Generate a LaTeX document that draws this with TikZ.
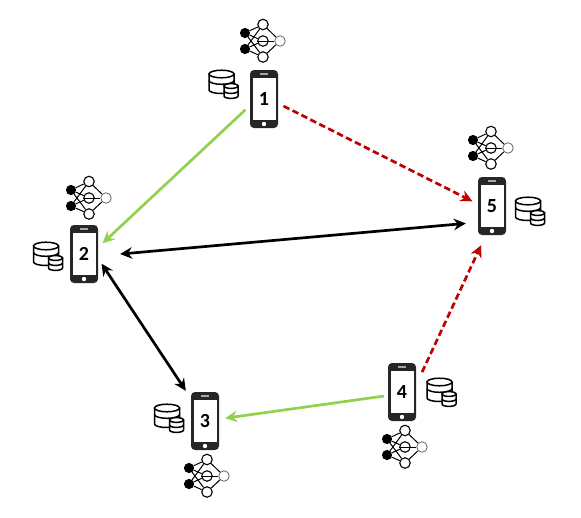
\documentclass[tikz,border=0pt]{standalone}
\usepackage{fontspec}
\setmainfont{Carlito}
\usetikzlibrary{arrows.meta}
\definecolor{phonedark}{RGB}{38,38,38}
\definecolor{linkgreen}{RGB}{146,208,80}
\definecolor{linkred}{RGB}{192,0,0}
\tikzset{
  phonebody/.style={minimum width=28pt,minimum height=58pt,inner sep=0pt,rounded corners=4pt,fill=phonedark,font=\bfseries\fontsize{20}{20}\selectfont,text=black,
    path picture={
      \begin{scope}[sharp corners]
      \fill[white] ([xshift=2.5pt,yshift=8pt]path picture bounding box.south west) rectangle ([xshift=-2.5pt,yshift=-8pt]path picture bounding box.north east);
      \fill[white] ([yshift=4pt]path picture bounding box.south) circle (2.2pt);
      \fill[gray!70] ([xshift=-4pt,yshift=-3.4pt]path picture bounding box.north) rectangle ([xshift=4pt,yshift=-4.8pt]path picture bounding box.north);
      \end{scope}
    }},
  neuron/.style={circle,draw=black,fill=white,line width=1.1pt,minimum size=10.5pt,inner sep=0pt},
  inneuron/.style={neuron,fill=black,minimum size=9pt},
  outneuron/.style={neuron,draw=black!60,line width=0.8pt},
  synapse/.style={draw=black,line width=1pt},
  cyl/.style={draw=black,line width=1.5pt,fill=white},
  cylband/.style={draw=black,line width=1.5pt},
  link/.style={line width=2.7pt,-{Stealth[length=12pt,width=11.5pt]}},
  twolink/.style={line width=2.7pt,{Stealth[length=12pt,width=11.5pt]}-{Stealth[length=12pt,width=11.5pt]}},
  greenlink/.style={link,draw=linkgreen,color=linkgreen},
  redlink/.style={link,draw=linkred,color=linkred,dash pattern=on 6.5pt off 3.5pt},
  blacklink/.style={twolink,draw=black},
}
\newcommand{\nnet}[3]{%
  \node[inneuron] (#1a) at (#2-18,#3-8) {};
  \node[inneuron] (#1b) at (#2-18,#3+8) {};
  \node[outneuron] (#1o) at (#2+17,#3) {};
  \node[neuron] (#1t) at (#2,#3-16.5) {};
  \node[neuron] (#1m) at (#2,#3) {};
  \node[neuron] (#1d) at (#2,#3+16) {};
  \foreach \s in {a,b}\foreach \e in {t,m,d}\path[synapse] (#1\s) -- (#1\e);
  \foreach \s in {t,m,d}\path[synapse] (#1\s) -- (#1o);
  \path[synapse] (#1m.west) -- (#1m.east);
}
\newcommand{\dbase}[2]{%
  \begin{scope}[shift={(#1,#2)}]
  \begin{scope}[y=1pt]
    \path[cyl] (-12.5,8) -- (-12.5,-8) arc[start angle=180,end angle=360,x radius=12.5,y radius=3.5] -- (12.5,8) -- cycle;
    \path[cyl] (0,8) ellipse[x radius=12.5,y radius=3.8];
    \path[cylband] (-12.5,1.5) arc[start angle=180,end angle=360,x radius=12.5,y radius=3.8];
    \begin{scope}[shift={(9.5,-9)}]
      \path[cyl] (-7,5) -- (-7,-5) arc[start angle=180,end angle=360,x radius=7,y radius=2.4] -- (7,5) -- cycle;
      \path[cyl] (0,5) ellipse[x radius=7,y radius=2.4];
      \path[cylband] (-7,0) arc[start angle=180,end angle=360,x radius=7,y radius=2.4];
    \end{scope}
  \end{scope}
  \end{scope}}
\begin{document}
\begin{tikzpicture}[x=1pt,y=-1pt]
\useasboundingbox (0,0) rectangle (581,517);
\node[phonebody] (p1) at (264,99) {1};
\node[phonebody] (p2) at (84,254) {2};
\node[phonebody] (p3) at (205,421) {3};
\node[phonebody] (p4) at (402,392) {4};
\node[phonebody] (p5) at (492,206) {5};
\nnet{na}{263}{41}
\nnet{nb}{89}{198}
\nnet{nc}{207}{476}
\nnet{nd}{405}{447}
\nnet{ne}{491}{148}
\dbase{221.5}{82}
\dbase{46}{254}
\dbase{167}{416}
\dbase{439.5}{390}
\dbase{528}{209}
\draw[greenlink,shorten <=6pt,shorten >=6pt] (p1.205) -- (p2.25);
\draw[redlink,shorten <=6pt,shorten >=6pt] (p1.-17) -- (p5.172);
\draw[blacklink,shorten <=22pt,shorten >=12pt] (p2.-8) -- (p5.-131);
\draw[blacklink,shorten <=6pt,shorten >=9pt] (p2.-18) -- (p3.122);
\draw[greenlink,shorten <=4pt,shorten >=6pt] (p4.194) -- (p3.8);
\draw[redlink,shorten <=14pt,shorten >=11pt] (p4.27) -- (p5.-102);
\end{tikzpicture}
\end{document}
